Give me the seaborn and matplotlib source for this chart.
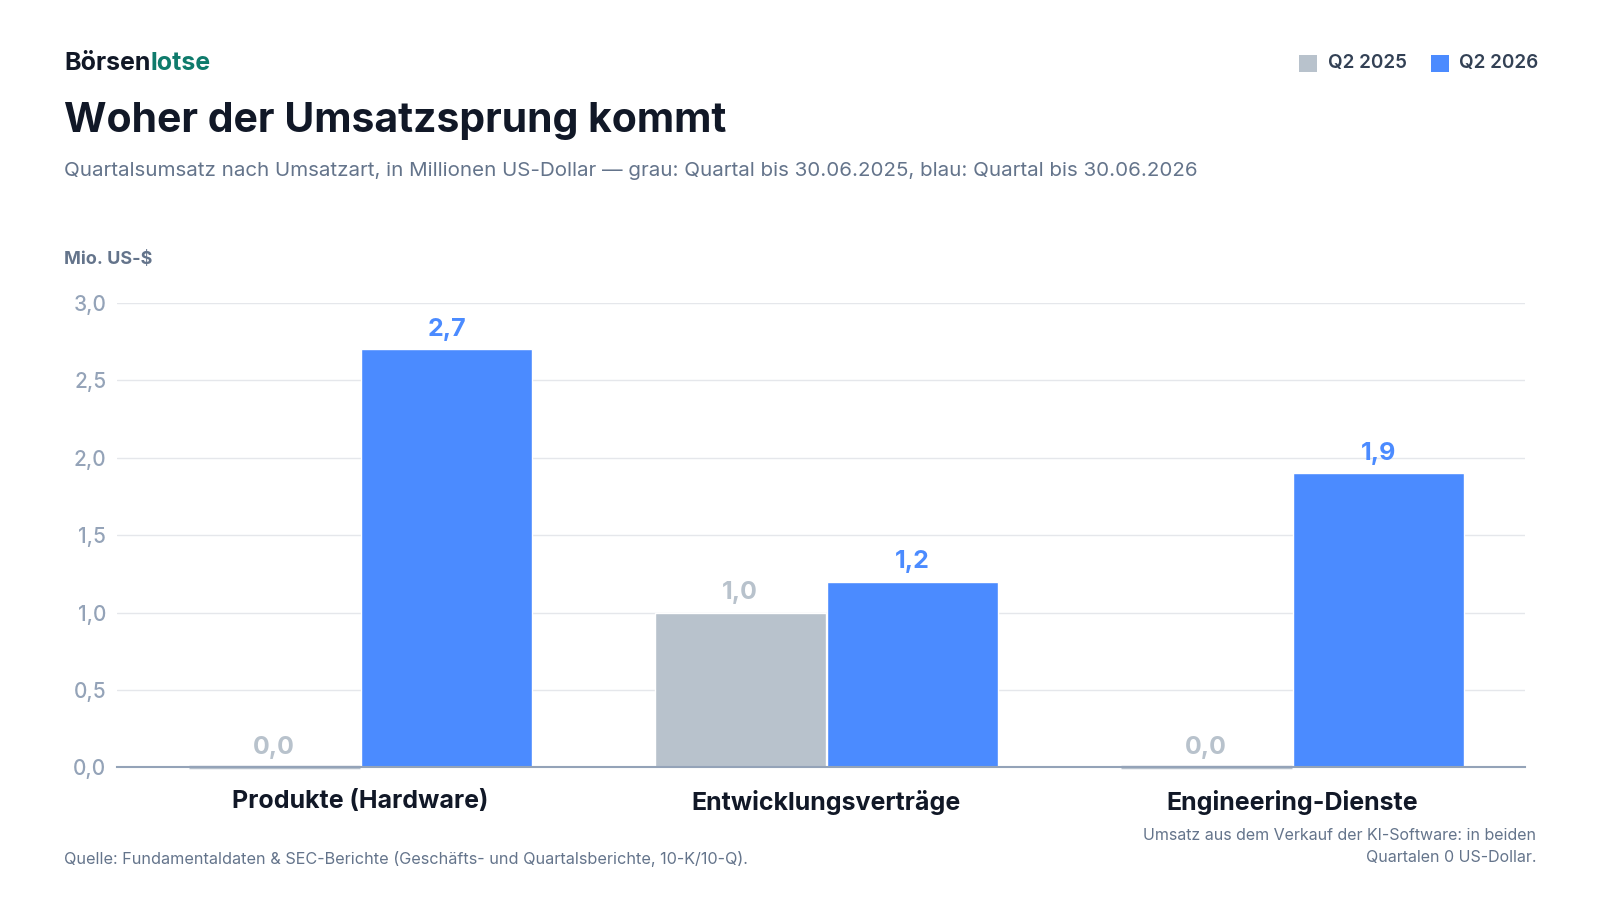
import pandas as pd
import matplotlib.pyplot as plt
import seaborn as sns
from matplotlib.patches import Rectangle

# Daten
kategorien = ["Produkte (Hardware)", "Entwicklungsverträge", "Engineering-Dienste"]
q2_2025 = [0.0, 1.0, 0.0]
q2_2026 = [2.7, 1.2, 1.9]
quartale = ["Q2 2025", "Q2 2026"]
y_ticks = [0.0, 0.5, 1.0, 1.5, 2.0, 2.5, 3.0]

GRAU = "#B8C2CC"
BLAU = "#4B8BFF"
DUNKEL = "#111827"
MITTEL = "#64748B"
HELL = "#94A3B8"

df = pd.DataFrame({
    "Kategorie": kategorien * 2,
    "Quartal": [quartale[0]] * 3 + [quartale[1]] * 3,
    "Wert": q2_2025 + q2_2026,
})

sns.set_style("white")
plt.rcParams["font.family"] = ["Inter", "DejaVu Sans"]

fig = plt.figure(figsize=(16, 9), dpi=100)
ax = fig.add_axes([0.0733, 0.1474, 0.8801, 0.5159])

sns.barplot(data=df, x="Kategorie", y="Wert", hue="Quartal", order=kategorien,
            hue_order=quartale, palette=[GRAU, BLAU], width=0.74, gap=0.01,
            saturation=1, legend=False, ax=ax)

# Null-Balken als dünner Strich sichtbar machen
for cont, col in zip(ax.containers, [GRAU, BLAU]):
    for bar in cont:
        if bar.get_height() == 0:
            bar.set_edgecolor(col)
            bar.set_linewidth(2.5)
            bar.set_clip_on(False)

# Werte-Beschriftung
for cont, col in zip(ax.containers, [GRAU, BLAU]):
    labels = [f"{v:.1f}".replace(".", ",") for v in cont.datavalues]
    ax.bar_label(cont, labels=labels, padding=6, color=col, fontsize=18,
                 fontweight="bold")

ax.set_xlim(-0.522, 2.5)
ax.set_ylim(0, 3.0)
ax.set_yticks(y_ticks)
ax.set_yticklabels([f"{t:.1f}".replace(".", ",") for t in y_ticks])
ax.tick_params(axis="y", length=0, pad=8, labelsize=15, labelcolor=HELL)
ax.tick_params(axis="x", length=0, pad=16, labelsize=18)
for lab in ax.get_yticklabels():
    lab.set_fontweight("medium")
for lab in ax.get_xticklabels():
    lab.set_fontweight("bold")
    lab.set_color(DUNKEL)
ax.set_xlabel("")
ax.set_ylabel("")
ax.grid(axis="y", color="#E5E7EB", linewidth=1)
ax.set_axisbelow(True)
for s in ["top", "right", "left"]:
    ax.spines[s].set_visible(False)
ax.spines["bottom"].set_color(HELL)
ax.spines["bottom"].set_linewidth(1.5)

# Kopfbereich
t1 = fig.text(0.0402, 0.9295, "Börsen", fontsize=18, fontweight="bold", color=DUNKEL,
              va="center")
fig.canvas.draw()
bb = t1.get_window_extent(renderer=fig.canvas.get_renderer()).transformed(fig.transFigure.inverted())
fig.text(bb.x1, 0.9295, "lotse", fontsize=18, fontweight="bold", color="#0F7B6C",
         va="center")
fig.text(0.0402, 0.8655, "Woher der Umsatzsprung kommt", fontsize=29.5,
         fontweight="bold", color=DUNKEL, va="center")
fig.text(0.0402, 0.8095,
         "Quartalsumsatz nach Umsatzart, in Millionen US-Dollar — grau: Quartal bis "
         "30.06.2025, blau: Quartal bis 30.06.2026",
         fontsize=14.8, color=MITTEL, va="center")
fig.text(0.0402, 0.7115, "Mio. US-$", fontsize=13, fontweight="bold", color=MITTEL,
         va="center")

# Legende oben rechts
for x0, name, col in [(0.8119, quartale[0], GRAU), (0.8941, quartale[1], BLAU)]:
    fig.patches.append(Rectangle((x0, 0.9205), 0.0115, 0.018, transform=fig.transFigure,
                                 facecolor=col, edgecolor="none"))
    fig.text(x0 + 0.0178, 0.9295, name, fontsize=13.6, fontweight="semibold",
             color="#334155", va="center")

# Fußzeile
fig.text(0.0402, 0.0455,
         "Quelle: Fundamentaldaten & SEC-Berichte (Geschäfts- und Quartalsberichte, 10-K/10-Q).",
         fontsize=11.7, color=MITTEL, va="center")
fig.text(0.96, 0.0595, "Umsatz aus dem Verkauf der KI-Software: in beiden\nQuartalen 0 US-Dollar.",
         fontsize=11.5, color=MITTEL, ha="right", va="center", linespacing=1.55)

fig.savefig("out.png", dpi=100, facecolor="white")
